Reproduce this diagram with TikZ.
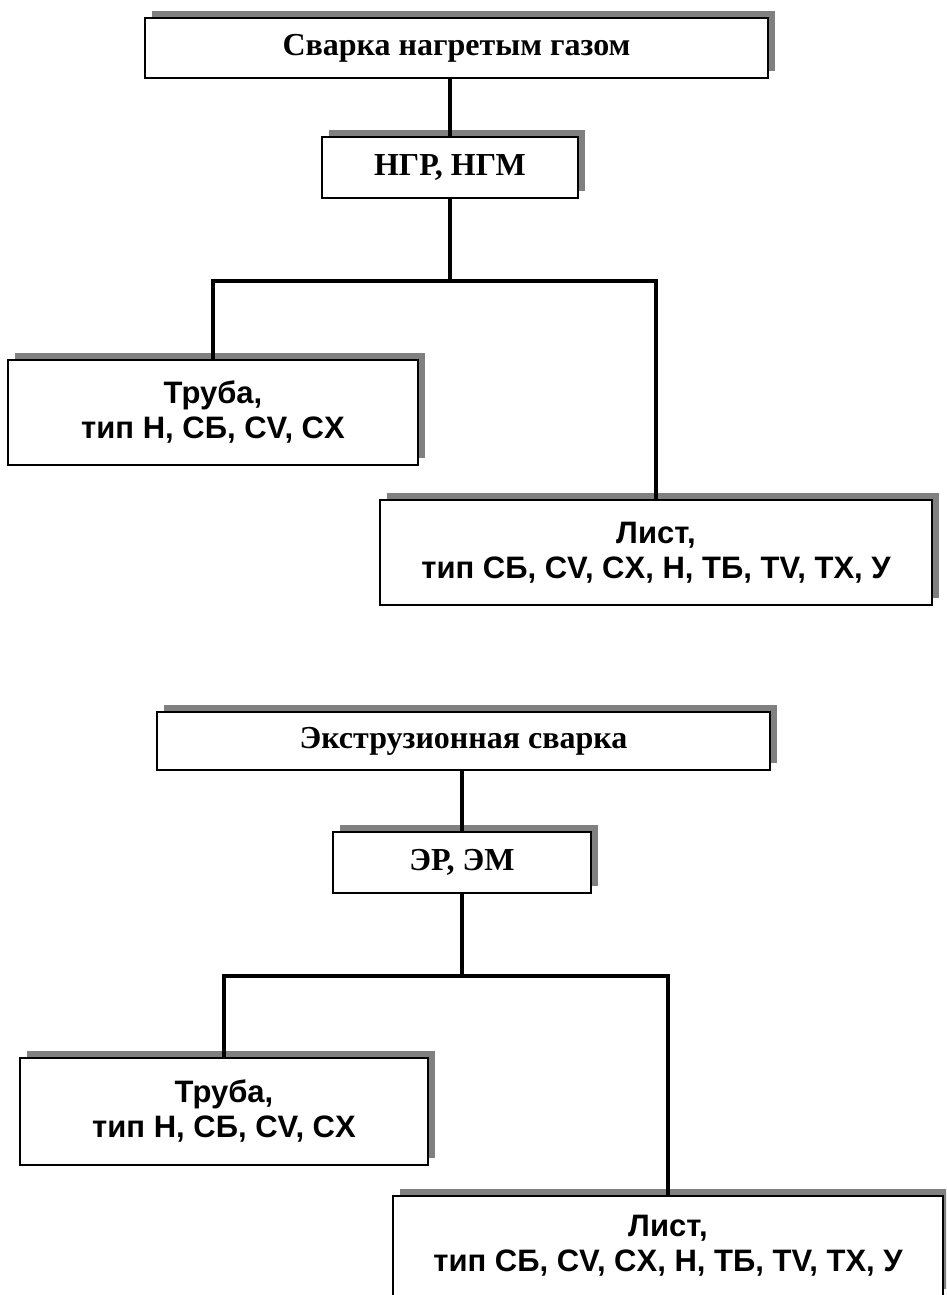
\documentclass[tikz,border=0pt]{standalone}
\usepackage{fontspec}
\setmainfont{Liberation Serif}
\setsansfont{Liberation Sans}
\usetikzlibrary{shadows}
\tikzset{
  box/.style={draw, line width=2pt, fill=white, inner sep=0pt, align=center,
    drop shadow={shadow xshift=7pt, shadow yshift=7pt, fill=black!50, opacity=1}},
  headbox/.style={box, font=\fontsize{32}{38}\selectfont\bfseries},
  leafbox/.style={box, font=\fontsize{31}{35}\selectfont\sffamily\bfseries},
  link/.style={line width=4pt}
}
\begin{document}
\begin{tikzpicture}[x=1pt, y=-1pt]
\useasboundingbox (0,0) rectangle (946,1295);
\clip (0,0) rectangle (946,1295);

% Hot gas welding
\node[headbox, minimum width=623pt, minimum height=60pt] (gas) at (456.5,48) {Сварка нагретым газом};
\node[headbox, minimum width=256pt, minimum height=61pt] (gasm) at (450,167.5) {НГР, НГМ};
\node[leafbox, minimum width=410pt, minimum height=105pt] (gaspipe) at (213,412.5) {Труба,\\тип Н, СБ, CV, CX};
\node[leafbox, minimum width=552pt, minimum height=105pt] (gassheet) at (656,552.5) {Лист,\\тип СБ, CV, CX, Н, ТБ, TV, TX, У};

% Extrusion welding
\node[headbox, minimum width=613pt, minimum height=58pt] (ext) at (463.5,741) {Экструзионная сварка};
\node[headbox, minimum width=258pt, minimum height=61pt] (extm) at (462,862.5) {ЭР, ЭМ};
\node[leafbox, minimum width=408pt, minimum height=107pt] (extpipe) at (224,1111.5) {Труба,\\тип Н, СБ, CV, CX};
\node[leafbox, minimum width=550pt, minimum height=100pt] (extsheet) at (668,1246) {Лист,\\тип СБ, CV, CX, Н, ТБ, TV, TX, У};

% Connectors
\draw[link] (gasm.north) -- (gasm.north |- gas.south);
\draw[link] (gasm.south) -- ++(0,82) coordinate (gasj) -| (gaspipe.north);
\draw[link] (gasj) -| (gassheet.north);

\draw[link] (extm.north) -- (extm.north |- ext.south);
\draw[link] (extm.south) -- ++(0,82) coordinate (extj) -| (extpipe.north);
\draw[link] (extj) -| (extsheet.north);
\end{tikzpicture}
\end{document}
